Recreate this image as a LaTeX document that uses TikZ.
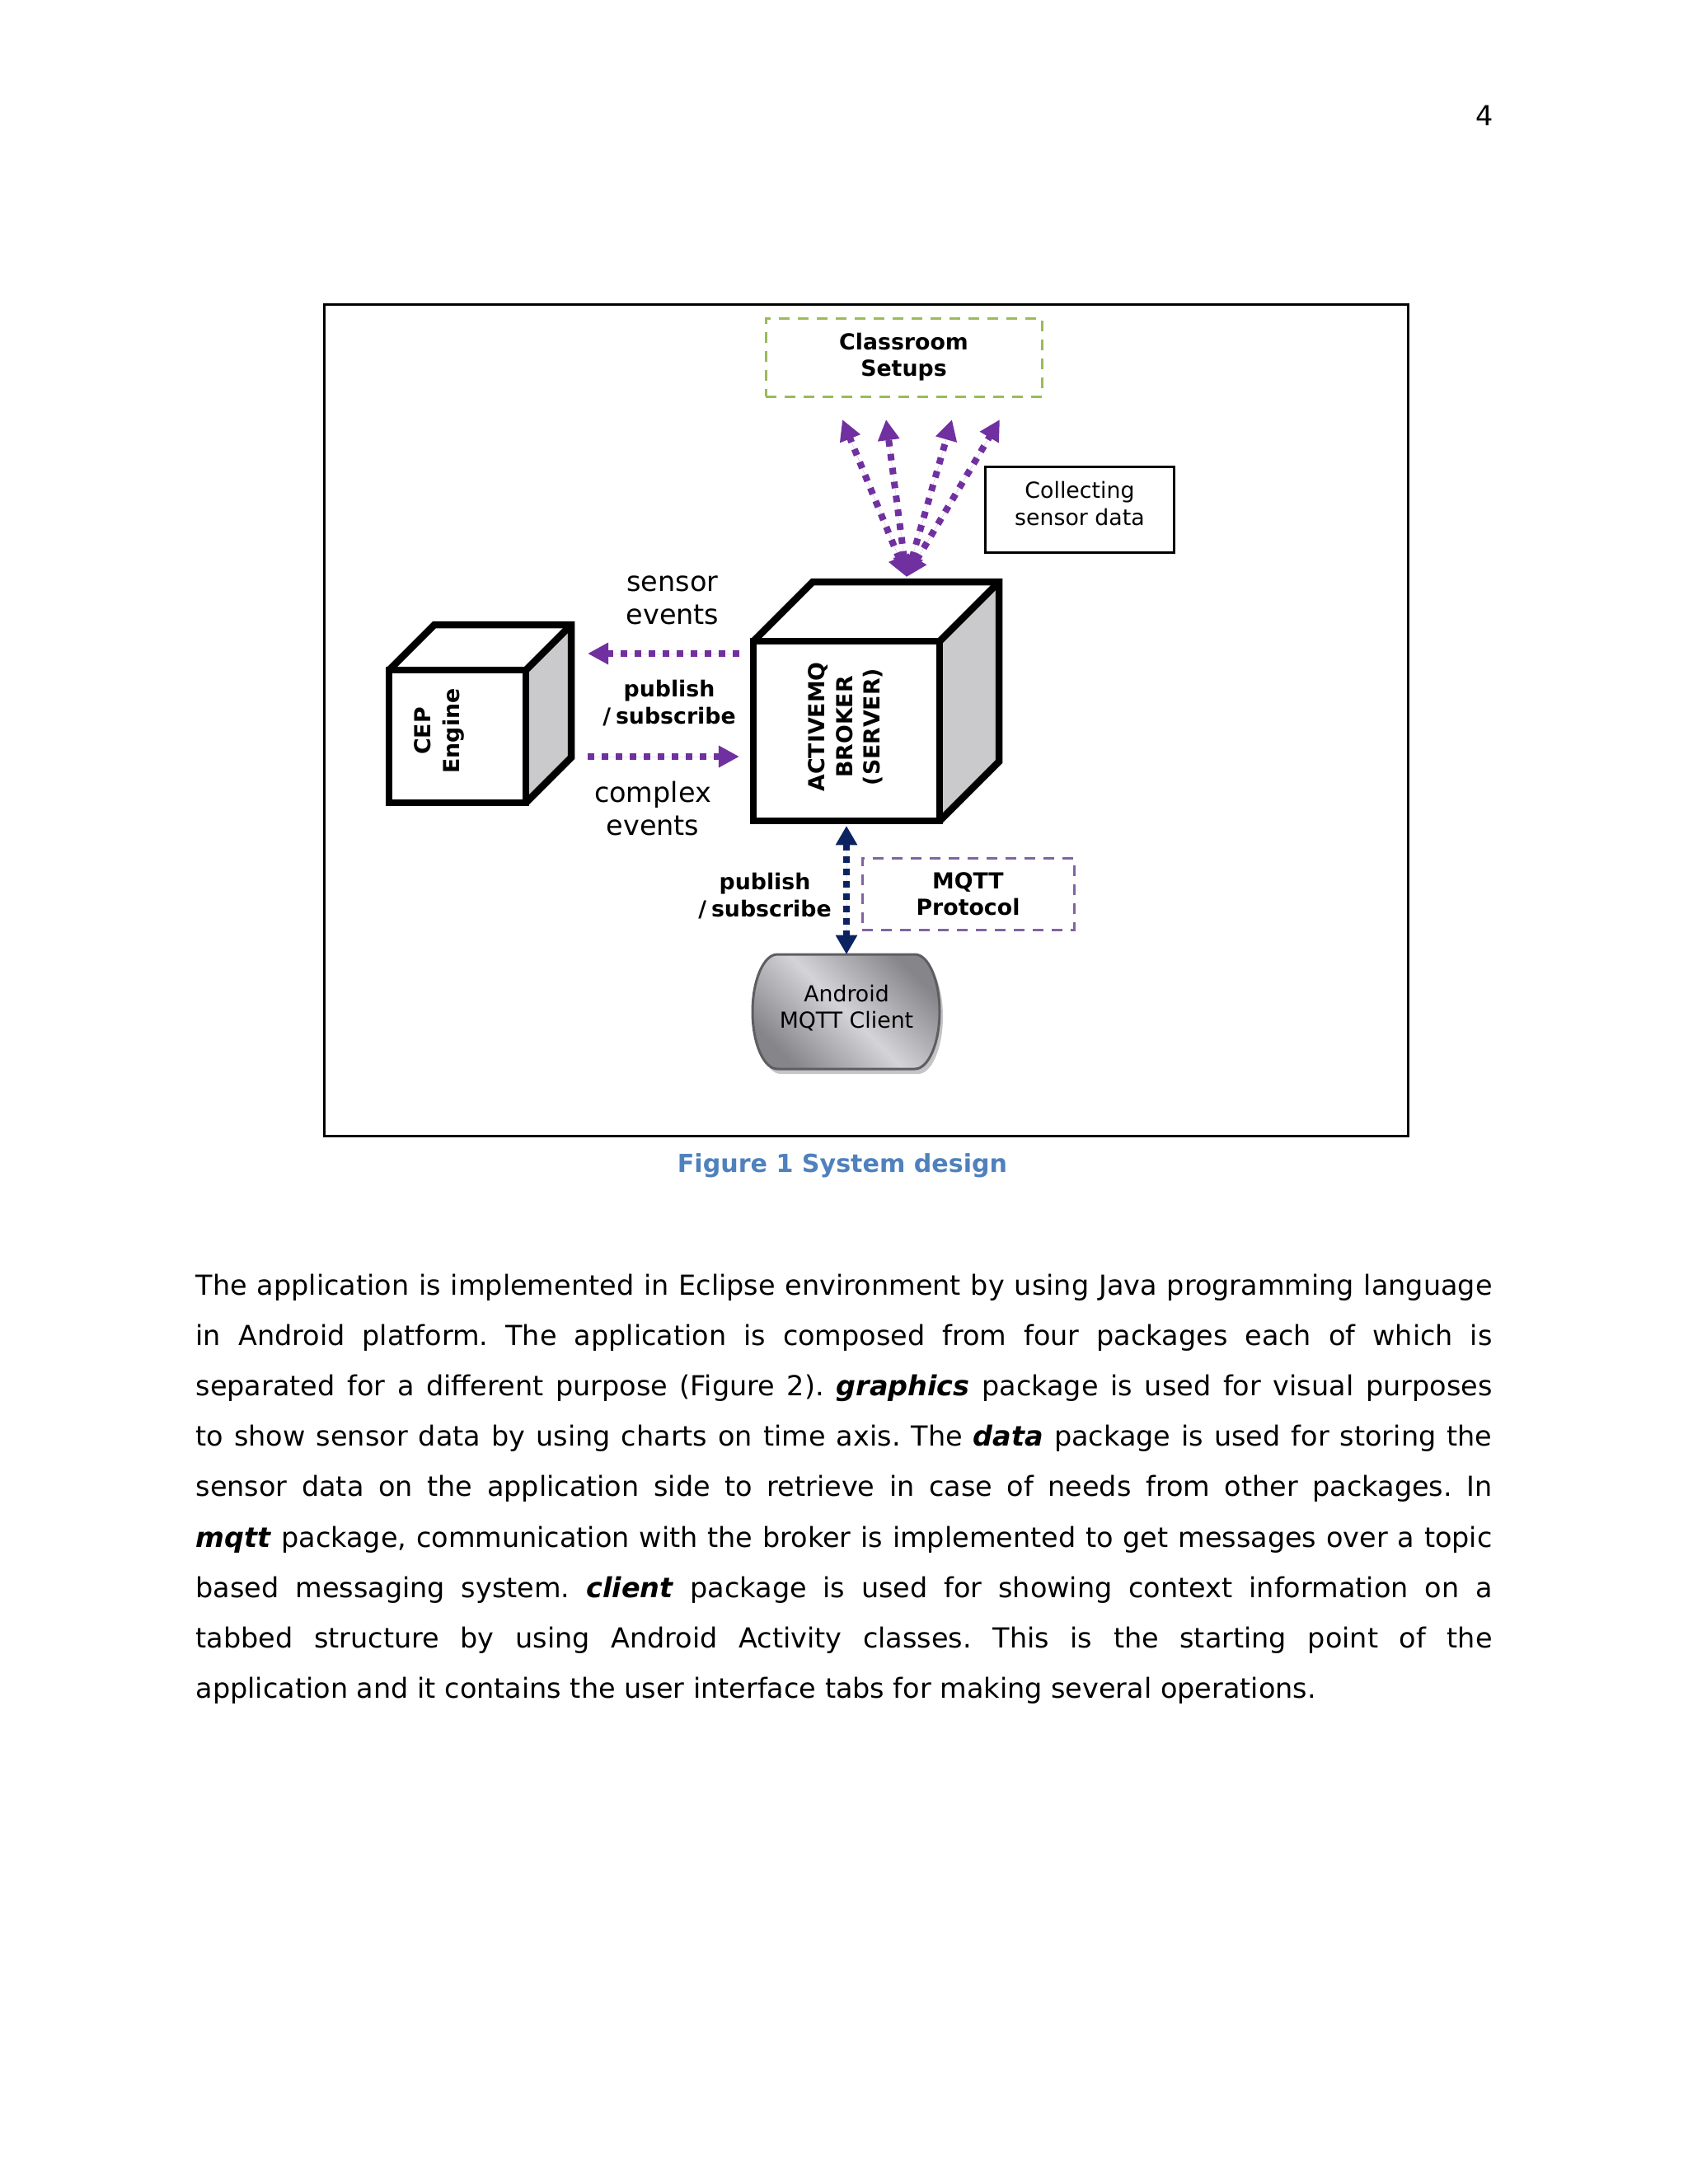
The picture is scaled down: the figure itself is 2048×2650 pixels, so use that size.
\documentclass[tikz,border=0pt]{standalone}
\usepackage{fontspec}
\setmainfont{DejaVu Sans}
\usetikzlibrary{arrows.meta}
\newlength\pxu
\setlength\pxu{0.29883pt}
\definecolor{pplarrow}{HTML}{7030A0}
\definecolor{navyarrow}{HTML}{0B2461}
\definecolor{greenbox}{HTML}{9BBB59}
\definecolor{mqttbox}{HTML}{8064A2}
\definecolor{sidegray}{HTML}{CACACD}
\definecolor{capblue}{HTML}{4F81BD}
\definecolor{droiddark}{HTML}{85858A}
\definecolor{droidlight}{HTML}{D4D4D8}
\definecolor{droidshadow}{HTML}{C4C4C6}
\definecolor{droidedge}{HTML}{5E5E62}
\frenchspacing
\begin{document}
\begin{tikzpicture}[x=\pxu,y=-\pxu,
  cubeline/.style={draw=black, line width=8.5\pxu, line join=miter},
  frontface/.style={cubeline, fill=white, outer sep=0pt, inner sep=0pt},
  lblS/.style={font=\fontsize{8}{9.6}\selectfont, align=center, inner sep=0pt},
  lblB/.style={font=\fontsize{8}{9.6}\selectfont\bfseries, align=center, inner sep=0pt},
  lblL/.style={font=\fontsize{10}{12}\selectfont, align=center, inner sep=0pt},
  pdots/.style={draw=pplarrow, line width=8\pxu, dash pattern=on 8\pxu off 9\pxu,
    >={Triangle[length=7.5pt,width=7.5pt]}, fill=pplarrow},
  ndots/.style={draw=navyarrow, line width=8\pxu, dash pattern=on 8\pxu off 7\pxu,
    >={Triangle[length=7pt,width=7.5pt]}, fill=navyarrow},
  dashbox/.style={line width=3\pxu, dash pattern=on 13\pxu off 10\pxu, inner sep=0pt, outer sep=0pt},
  bodyline/.style={anchor=base west, inner sep=0pt, font=\fontsize{10}{12}\selectfont}
]
\useasboundingbox (0,0) rectangle (2048,2650);

% page number
\node[anchor=base east, inner sep=0pt, font=\fontsize{10}{12}\selectfont] (pagenum) at (1812,152) {4};

% figure frame
\draw[line width=3\pxu] (393,369) rectangle (1708,1378);

% Classroom setups box
\node[dashbox, draw=greenbox, minimum width=335\pxu, minimum height=95\pxu,
  font=\fontsize{8}{9.6}\selectfont\bfseries, align=center] (classroom) at (1096.5,433.5) {Classroom\\Setups};

% Collecting sensor data box
\node[draw=black, line width=3\pxu, minimum width=229\pxu, minimum height=104\pxu, inner sep=0pt] (collect) at (1309.5,618) {};
\node[lblS] (collectlbl) at (1310,611) {Collecting\\sensor data};

% ---- Broker cube ----
\fill[white] (914,778) -- ++(72,-72) -- ++(226,0) -- (1140,778) -- cycle;
\fill[sidegray] (1140,778) -- ++(72,-72) -- ++(0,218) -- (1140,996) -- cycle;
\draw[cubeline] (914,778) -- ++(72,-72) -- ++(226,0) -- ++(0,218) -- (1140,996);
\draw[cubeline] (1212,706) -- (1140,778);
\node[frontface, minimum width=226\pxu, minimum height=218\pxu] (broker) at (1027,887) {};
\node[font=\fontsize{8}{10}\selectfont\bfseries, align=center, inner sep=0pt, rotate=90] (brokerlbl) at (1026,882) {ACTIVEMQ\\BROKER\\(SERVER)};

% ---- CEP cube ----
\fill[white] (472,813) -- ++(55,-55) -- ++(166,0) -- (638,813) -- cycle;
\fill[sidegray] (638,813) -- ++(55,-55) -- ++(0,161) -- (638,974) -- cycle;
\draw[cubeline] (472,813) -- ++(55,-55) -- ++(166,0) -- ++(0,161) -- (638,974);
\draw[cubeline] (693,758) -- (638,813);
\node[frontface, minimum width=166\pxu, minimum height=161\pxu] (cep) at (555,893.5) {};
\node[font=\fontsize{8}{10.4}\selectfont\bfseries, align=center, inner sep=0pt, rotate=90] (ceplbl) at (533,887) {CEP\\Engine};

% ---- fan of arrows to classroom ----
\coordinate (fanbase) at (1100,700);
\coordinate (fanA) at (1022,509);
\coordinate (fanB) at (1075,509);
\coordinate (fanC) at (1155,509);
\coordinate (fanD) at (1213,509);
\draw[pdots,<->] (fanbase) -- (fanA);
\draw[pdots,<->] (fanbase) -- (fanB);
\draw[pdots,<->] (fanbase) -- (fanC);
\draw[pdots,<->] (fanbase) -- (fanD);

% ---- broker <-> CEP ----
\coordinate (sensA) at (897,793);
\coordinate (sensB) at (713,793);
\coordinate (cplxA) at (713,918);
\coordinate (cplxB) at (897,918);
\draw[pdots,->] (sensA) -- (sensB);
\draw[pdots,->] (cplxA) -- (cplxB);
\node[lblL] (sensorlbl) at (816,728) {sensor\\events};
\node[lblB] (pubsub1) at (812,853) {publish\\/\kern1.8pt subscribe};
\node[lblL] (complexlbl) at (792,981) {complex\\events};

% ---- Android client ----
\def\droidpath{(943,1158) -- (1110,1158) .. controls (1126.5,1158) and (1140,1189.5) .. (1140,1227.5)
  .. controls (1140,1265.5) and (1126.5,1297) .. (1110,1297) -- (943,1297)
  .. controls (926.5,1297) and (913,1265.5) .. (913,1227.5)
  .. controls (913,1189.5) and (926.5,1158) .. (943,1158) -- cycle}
\fill[droidshadow, shift={(4,6)}] \droidpath;
\draw[draw=droidedge, line width=3\pxu, left color=droiddark, right color=droiddark, middle color=droidlight, shading angle=135] \droidpath;
\node[lblS] (android) at (1027,1223) {Android\\MQTT Client};

% ---- broker <-> android ----
\coordinate (mqttA) at (1027,1002);
\coordinate (mqttB) at (1027,1158);
\draw[ndots,<->] (mqttA) -- (mqttB);
\node[dashbox, draw=mqttbox, minimum width=257\pxu, minimum height=87\pxu,
  font=\fontsize{8}{9.6}\selectfont\bfseries, align=center] (mqtt) at (1174.5,1084.5) {MQTT\\Protocol};
\node[lblB] (pubsub2) at (928,1087) {publish\\/\kern1.8pt subscribe};

% ---- caption ----
\node[anchor=base, inner sep=0pt, font=\fontsize{9}{11}\selectfont\bfseries, text=capblue] (caption) at (1022,1422) {Figure 1 System design};

% ---- body text ----
\node[bodyline] (l1) at (237,1571) {\makebox[470pt][s]{The application is implemented in Eclipse environment by using Java programming language}};
\node[bodyline] (l2) at (237,1632.2) {\makebox[470pt][s]{in Android platform. The application is composed from four packages each of which is}};
\node[bodyline] (l3) at (237,1693.4) {\makebox[470pt][s]{separated for a different purpose (Figure 2). \textbf{\textit{graphics}} package is used for visual purposes}};
\node[bodyline] (l4) at (237,1754.6) {\makebox[470pt][s]{to show sensor data by using charts on time axis. The \textbf{\textit{data}} package is used for storing the}};
\node[bodyline] (l5) at (237,1815.8) {\makebox[470pt][s]{sensor data on the application side to retrieve in case of needs from other packages. In}};
\node[bodyline] (l6) at (237,1877) {\makebox[470pt][s]{\textbf{\textit{mqtt}} package, communication with the broker is implemented to get messages over a topic}};
\node[bodyline] (l7) at (237,1938.2) {\makebox[470pt][s]{based messaging system. \textbf{\textit{client}} package is used for showing context information on a}};
\node[bodyline] (l8) at (237,1999.4) {\makebox[470pt][s]{tabbed structure by using Android Activity classes. This is the starting point of the}};
\node[bodyline] (l9) at (237,2060.6) {application and it contains the user interface tabs for making several operations.};
\end{tikzpicture}
\end{document}
